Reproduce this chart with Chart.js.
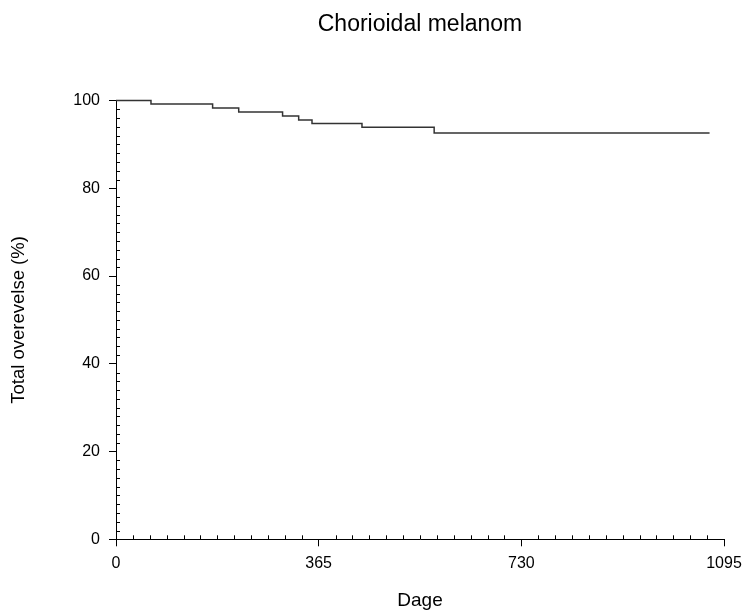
<!DOCTYPE html>
<html>
<head>
<meta charset="utf-8">
<script src="https://cdn.jsdelivr.net/npm/chart.js@4"></script>
<style>
  html, body { margin: 0; padding: 0; background: #fff; }
  #wrap { width: 744px; height: 610px; }
</style>
</head>
<body>
<div id="wrap"><canvas id="kmChart" width="744" height="610"></canvas></div>
<script>
// Kaplan-Meier steps (day of drop, survival after drop)
const days = [0, 63, 174, 221, 300, 329, 353, 443, 573, 1069];
const survival = [100, 99.2, 98.3, 97.4, 96.5, 95.6, 94.8, 93.9, 92.6, 92.6];

const xTicks = [0, 365, 730, 1095];
const yTicks = [0, 20, 40, 60, 80, 100];

const FONT = "'Liberation Sans', Arial, sans-serif";

// small inward ticks between the labelled ones
const minorTicks = {
    id: 'minorTicks',
    afterDraw(chart) {
        const ctx = chart.ctx;
        const x = chart.scales.x;
        const y = chart.scales.y;
        const area = chart.chartArea;
        ctx.save();
        ctx.strokeStyle = '#000';
        ctx.lineWidth = 1;
        ctx.beginPath();
        for (let i = 1; i < 36; i++) {
            if (i % 12 === 0) continue;
            const px = Math.round(x.getPixelForValue(i * 365 / 12)) + 0.5;
            ctx.moveTo(px, area.bottom);
            ctx.lineTo(px, area.bottom - 4);
        }
        for (let v = 2; v < 100; v += 2) {
            if (v % 20 === 0) continue;
            const py = Math.round(y.getPixelForValue(v)) + 0.5;
            ctx.moveTo(area.left, py);
            ctx.lineTo(area.left + 4, py);
        }
        ctx.stroke();
        ctx.restore();
    }
};

const ctx = document.getElementById('kmChart').getContext('2d');
new Chart(ctx, {
    type: 'line',
    data: {
        datasets: [{
            data: days.map((d, i) => ({ x: d, y: survival[i] })),
            stepped: true,
            borderColor: '#333',
            borderWidth: 1.5,
            pointRadius: 0,
            fill: false,
            clip: 6
        }]
    },
    options: {
        responsive: false,
        animation: false,
        devicePixelRatio: 1,
        layout: { padding: { left: 0, right: 20, top: 0, bottom: 0 } },
        plugins: {
            legend: { display: false },
            tooltip: { enabled: false },
            title: {
                display: true,
                fullSize: false,
                text: 'Chorioidal melanom',
                color: '#000',
                font: { family: FONT, size: 23, weight: 'normal', lineHeight: 1.2 },
                padding: { top: 11, bottom: 62 }
            }
        },
        scales: {
            x: {
                type: 'linear',
                min: 0,
                max: 1095,
                afterBuildTicks: (scale) => { scale.ticks = xTicks.map(v => ({ value: v })); },
                afterFit: (scale) => {
                    scale.height = 70.7;
                    scale.paddingRight = 0;
                    scale.paddingLeft = 0;
                },
                border: { display: true, color: '#000', width: 1 },
                grid: { drawOnChartArea: false, drawTicks: true, tickLength: 7, color: '#000' },
                ticks: {
                    color: '#000',
                    padding: 8,
                    maxRotation: 0,
                    callback: (v) => String(v),
                    font: { family: FONT, size: 16 }
                },
                title: {
                    display: true,
                    text: 'Dage',
                    color: '#000',
                    font: { family: FONT, size: 19, lineHeight: 1 },
                    padding: { top: 0, bottom: 0 }
                }
            },
            y: {
                min: 0,
                max: 100,
                afterBuildTicks: (scale) => { scale.ticks = yTicks.map(v => ({ value: v })); },
                afterFit: (scale) => { scale.width = 116; },
                border: { display: true, color: '#000', width: 1 },
                grid: { drawOnChartArea: false, drawTicks: true, tickLength: 7, color: '#000' },
                ticks: {
                    color: '#000',
                    padding: 9,
                    callback: (v) => String(v),
                    font: { family: FONT, size: 16 }
                },
                title: {
                    display: true,
                    text: 'Total overevelse (%)',
                    color: '#000',
                    font: { family: FONT, size: 18.5, lineHeight: 1.2 },
                    padding: { top: 8, bottom: 0 }
                }
            }
        }
    },
    plugins: [minorTicks]
});
</script>
</body>
</html>
